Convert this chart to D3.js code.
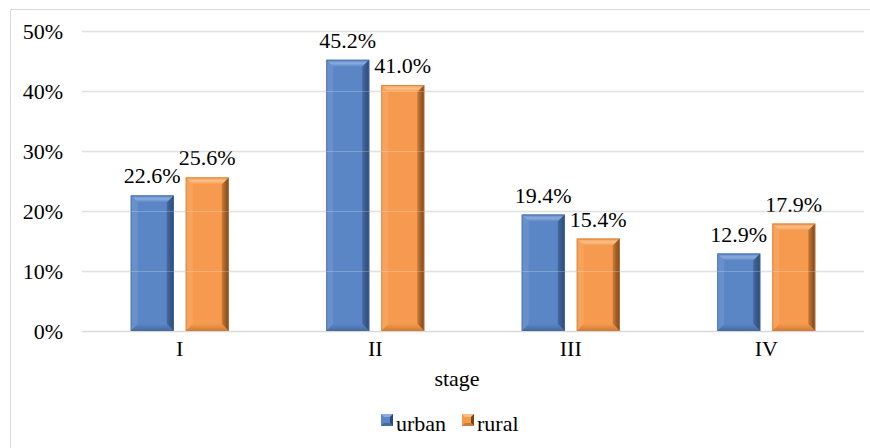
<!DOCTYPE html>
<html>
<head>
<meta charset="utf-8">
<script src="https://cdn.jsdelivr.net/npm/d3@7/dist/d3.min.js"></script>
<style>
  html, body { margin: 0; padding: 0; background: #fff; }
  svg text { font-family: 'Liberation Serif', 'Times New Roman', serif; fill: #000; }
</style>
</head>
<body>
<svg id="chart" width="870" height="448"></svg>
<script>
// Share of patients by stage, urban vs rural
const stages = ["I", "II", "III", "IV"];
const urban = [22.6, 45.2, 19.4, 12.9];
const rural = [25.6, 41.0, 15.4, 17.9];
const yTicks = [0, 10, 20, 30, 40, 50];
const seriesNames = ["urban", "rural"];

const series = [
  { name: seriesNames[0], values: urban, base: "#5a86c6", light: "#8aacdc", left: "#6990cb", dark: "#2c4a78", mid: "#46699f" },
  { name: seriesNames[1], values: rural, base: "#f59a4e", light: "#fbbf88", left: "#f6a35d", dark: "#74461a", mid: "#cf7a36" }
];

const svg = d3.select("#chart");
const W = 870, H = 448;
const plot = { left: 82, right: 864, top: 31, bottom: 331 };

// gradients for the bevelled faces
const defs = svg.append("defs");
series.forEach((s, k) => {
  const gr = defs.append("linearGradient").attr("id", "rgt" + k).attr("x1", 0).attr("x2", 1).attr("y1", 0).attr("y2", 0);
  gr.append("stop").attr("offset", 0).attr("stop-color", s.mid);
  gr.append("stop").attr("offset", 1).attr("stop-color", s.dark);
  const gt = defs.append("linearGradient").attr("id", "top" + k).attr("x1", 0).attr("x2", 0).attr("y1", 0).attr("y2", 1);
  gt.append("stop").attr("offset", 0).attr("stop-color", s.base);
  gt.append("stop").attr("offset", 0.5).attr("stop-color", s.light);
  gt.append("stop").attr("offset", 1).attr("stop-color", s.base);
  const gb = defs.append("linearGradient").attr("id", "bot" + k).attr("x1", 0).attr("x2", 0).attr("y1", 0).attr("y2", 1);
  gb.append("stop").attr("offset", 0).attr("stop-color", s.base);
  gb.append("stop").attr("offset", 1).attr("stop-color", s.mid);
});

// outer frame (left and top edges visible)
svg.append("path")
  .attr("d", `M10.5,${H} V9.5 H${W}`)
  .attr("fill", "none").attr("stroke", "#d9d9d9").attr("stroke-width", 1);

const x = d3.scaleBand().domain(stages).range([plot.left, plot.right]);
const y = d3.scaleLinear().domain([0, 50]).range([plot.bottom, plot.top]);

// gridlines
svg.append("g").selectAll("line").data(yTicks).join("line")
  .attr("x1", plot.left).attr("x2", plot.right)
  .attr("y1", d => Math.round(y(d)) + 0.5).attr("y2", d => Math.round(y(d)) + 0.5)
  .attr("stroke", "#d9d9d9").attr("stroke-width", 1.3);

// y axis labels
const yAxis = d3.axisLeft(y).tickValues(yTicks).tickFormat(d => d + "%").tickSize(0).tickPadding(0);
const yg = svg.append("g").attr("transform", `translate(${plot.left - 19},0)`).call(yAxis);
yg.attr("font-family", null).attr("font-size", null);
yg.select(".domain").remove();
yg.selectAll("text").attr("font-size", 22).attr("fill", "#000").attr("dy", "0.35em");

// x axis labels
const xAxis = d3.axisBottom(x).tickSize(0).tickPadding(0);
const xg = svg.append("g").attr("transform", `translate(0,${plot.bottom + 23})`).call(xAxis);
xg.attr("font-family", null).attr("font-size", null);
xg.select(".domain").remove();
xg.selectAll("text").attr("font-size", 22).attr("fill", "#000").attr("dy", "0.1em");

svg.append("text").attr("x", 457).attr("y", 386).attr("text-anchor", "middle")
  .attr("font-size", 22).text("stage");

// bar geometry inside each band
const barW = 43, gap = 12;
const bev = 7;

function bevelBar(g, x0, y0, w, h, s, k) {
  const x1 = x0 + w, y1 = y0 + h;
  const b = Math.min(bev, h / 2, w / 2);
  g.append("rect").attr("x", x0).attr("y", y0).attr("width", w).attr("height", h).attr("fill", s.base);
  // left bevel
  g.append("polygon").attr("points", [[x0, y0], [x0 + b, y0 + b], [x0 + b, y1 - b], [x0, y1]].join(" "))
    .attr("fill", s.left);
  // top bevel
  g.append("polygon").attr("points", [[x0, y0], [x1, y0], [x1 - b, y0 + b], [x0 + b, y0 + b]].join(" "))
    .attr("fill", `url(#top${k})`);
  // right bevel
  g.append("polygon").attr("points", [[x1, y0], [x1, y1], [x1 - b, y1 - b], [x1 - b, y0 + b]].join(" "))
    .attr("fill", `url(#rgt${k})`);
  // bottom bevel
  g.append("polygon").attr("points", [[x0, y1], [x0 + b, y1 - b], [x1 - b, y1 - b], [x1, y1]].join(" "))
    .attr("fill", `url(#bot${k})`);
  // thin outline
  g.append("rect").attr("x", x0 + 0.5).attr("y", y0 + 0.5).attr("width", w - 1).attr("height", h - 1)
    .attr("fill", "none").attr("stroke", s.mid).attr("stroke-opacity", 0.6);
}

const barsG = svg.append("g");
stages.forEach((st, i) => {
  const center = x(st) + x.bandwidth() / 2;
  series.forEach((s, k) => {
    const v = s.values[i];
    const x0 = k === 0 ? center - gap / 2 - barW : center + gap / 2;
    const top = y(v);
    bevelBar(barsG, x0, top, barW, plot.bottom - top, s, k);
    svg.append("text")
      .attr("x", x0 + barW / 2).attr("y", top - 12)
      .attr("text-anchor", "middle").attr("font-size", 22)
      .text(v.toFixed(1) + "%");
  });
});

// faint gridlines showing through the bars
svg.append("g").selectAll("line").data(yTicks.slice(1)).join("line")
  .attr("x1", plot.left).attr("x2", plot.right)
  .attr("y1", d => Math.round(y(d)) + 0.5).attr("y2", d => Math.round(y(d)) + 0.5)
  .attr("stroke", "#ffffff").attr("stroke-opacity", 0.22).attr("stroke-width", 1);

// legend
const legend = svg.append("g");
const legendItems = [{ s: series[0], x: 381, tx: 396 }, { s: series[1], x: 462, tx: 477 }];
legendItems.forEach((it, k) => {
  const s = it.s, lx = it.x, ly = 414, sz = 12, b = 3;
  legend.append("rect").attr("x", lx).attr("y", ly).attr("width", sz).attr("height", sz).attr("fill", s.base);
  legend.append("polygon").attr("points", [[lx, ly], [lx + sz, ly], [lx + sz - b, ly + b], [lx + b, ly + b]].join(" ")).attr("fill", s.light);
  legend.append("polygon").attr("points", [[lx + sz, ly], [lx + sz, ly + sz], [lx + sz - b, ly + sz - b], [lx + sz - b, ly + b]].join(" ")).attr("fill", s.dark);
  legend.append("polygon").attr("points", [[lx, ly + sz], [lx + b, ly + sz - b], [lx + sz - b, ly + sz - b], [lx + sz, ly + sz]].join(" ")).attr("fill", s.mid);
  legend.append("text").attr("x", it.tx).attr("y", 431).attr("font-size", 22).text(s.name);
});
</script>
</body>
</html>
